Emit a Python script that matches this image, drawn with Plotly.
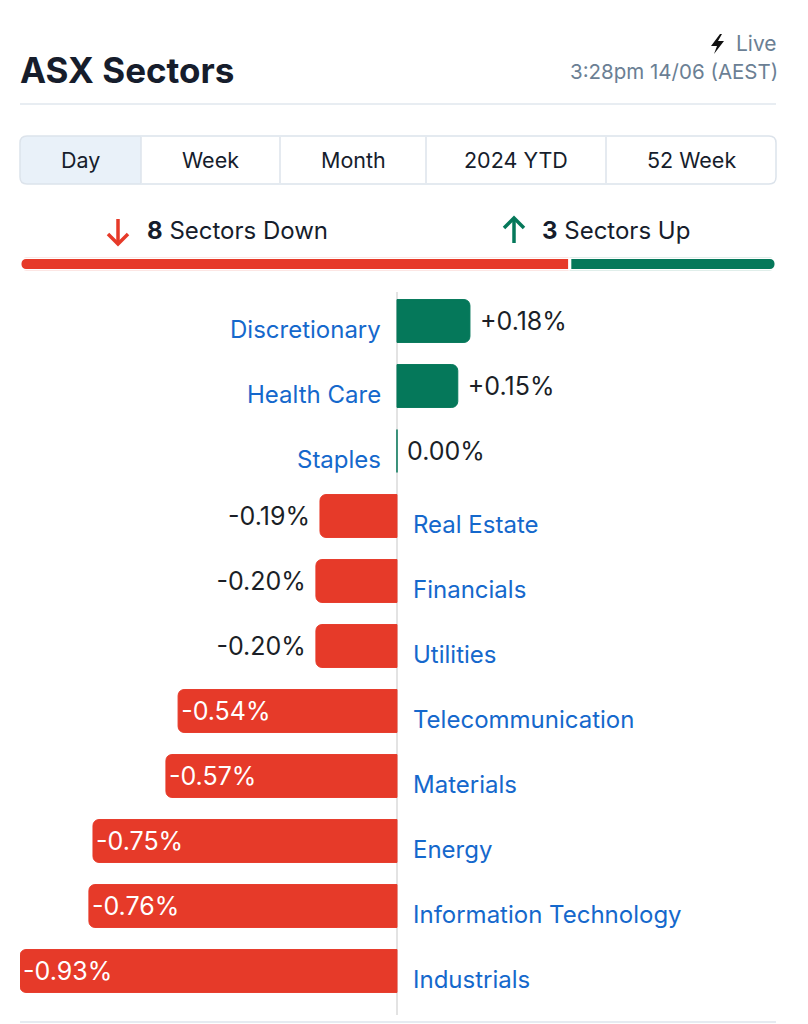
import plotly.graph_objects as go

# ---- data ----
sectors = ["Discretionary", "Health Care", "Staples", "Real Estate", "Financials",
           "Utilities", "Telecommunication", "Materials", "Energy",
           "Information Technology", "Industrials"]
changes = [0.18, 0.15, 0.00, -0.19, -0.20, -0.20, -0.54, -0.57, -0.75, -0.76, -0.93]
tabs = ["Day", "Week", "Month", "2024 YTD", "52 Week"]
title = "ASX Sectors"
live_text = "Live"
stamp_text = "3:28pm 14/06 (AEST)"

RED = "#e63a29"
GREEN = "#05785a"
BLUE = "#1568cc"
DARK = "#161d2c"
GREY = "#6b7f94"
LINE = "#e1e7ee"
# page body has an 8px margin, so the figure starts at (8, 8)
OFF = 8
W, H = 808 - OFF, 1024 - OFF


def px(x):
    return (x - OFF) / W


def py(y):
    return 1 - (y - OFF) / H


def rrect(x0, y0, x1, y1, r, left=True, right=True):
    # rounded rectangle path in pixel coords -> paper coords
    pts = []
    if left:
        pts.append(f"M{px(x0)},{py(y0 + r)}")
        pts.append(f"Q{px(x0)},{py(y0)} {px(x0 + r)},{py(y0)}")
    else:
        pts.append(f"M{px(x0)},{py(y0)}")
    if right:
        pts.append(f"L{px(x1 - r)},{py(y0)}")
        pts.append(f"Q{px(x1)},{py(y0)} {px(x1)},{py(y0 + r)}")
        pts.append(f"L{px(x1)},{py(y1 - r)}")
        pts.append(f"Q{px(x1)},{py(y1)} {px(x1 - r)},{py(y1)}")
    else:
        pts.append(f"L{px(x1)},{py(y0)}")
        pts.append(f"L{px(x1)},{py(y1)}")
    if left:
        pts.append(f"L{px(x0 + r)},{py(y1)}")
        pts.append(f"Q{px(x0)},{py(y1)} {px(x0)},{py(y1 - r)}")
    else:
        pts.append(f"L{px(x0)},{py(y1)}")
    pts.append("Z")
    return " ".join(pts)


def poly(points, close=True):
    p = "M" + " L".join(f"{px(x)},{py(y)}" for x, y in points)
    return p + " Z" if close else p


def arrow(cx, top, bottom, pointing_down, color):
    # stem + open chevron head
    if pointing_down:
        head = [(cx - 10, bottom - 10), (cx, bottom), (cx + 10, bottom - 10)]
        stem = [(cx, top), (cx, bottom - 1)]
    else:
        head = [(cx - 10, top + 10), (cx, top), (cx + 10, top + 10)]
        stem = [(cx, top + 1), (cx, bottom)]
    return [dict(type="path", xref="paper", yref="paper", path=poly(stem, False),
                 line=dict(color=color, width=3.5)),
            dict(type="path", xref="paper", yref="paper", path=poly(head, False),
                 line=dict(color=color, width=3.5))]


down = sum(1 for v in changes if v < 0)
up = sum(1 for v in changes if v >= 0)

colors = [GREEN if v >= 0 else RED for v in changes]
positions = []
labels = []
for v in changes:
    lab = "0.00%" if v == 0 else f"{v:+.2f}%"
    if v >= 0:
        positions.append("outside")
        labels.append(" " + lab)
    elif v > -0.3:
        positions.append("outside")
        labels.append(lab + " ")
    else:
        positions.append("inside")
        labels.append(lab)

fig = go.Figure()

fig.add_trace(go.Bar(
    x=changes, y=sectors, orientation="h",
    marker=dict(color=colors, cornerradius=6, line=dict(color=colors, width=1)),
    width=0.66,
    text=labels, textposition=positions, insidetextanchor="end",
    insidetextfont=dict(color="white", size=25, family="Inter"),
    outsidetextfont=dict(color="#1b1f27", size=25, family="Inter"),
    cliponaxis=False, hoverinfo="skip",
))

# progress bar of down / up counts
fig.add_trace(go.Bar(x=[-down], y=[0], orientation="h", width=1,
                     marker=dict(color=RED, cornerradius=6, line=dict(color="white", width=3)),
                     xaxis="x2", yaxis="y2", hoverinfo="skip"))
fig.add_trace(go.Bar(x=[up], y=[0], orientation="h", width=1,
                     marker=dict(color=GREEN, cornerradius=6, line=dict(color="white", width=3)),
                     xaxis="x2", yaxis="y2", hoverinfo="skip"))

ann = []
for s, v in zip(sectors, changes):
    if v >= 0:
        ann.append(dict(x=0, y=s, xref="x", yref="y", text=s, showarrow=False,
                        xanchor="right", xshift=-14, yshift=-8,
                        font=dict(color=BLUE, size=24, family="Inter")))
    else:
        ann.append(dict(x=0, y=s, xref="x", yref="y", text=s, showarrow=False,
                        xanchor="left", xshift=14, yshift=-8,
                        font=dict(color=BLUE, size=24, family="Inter")))

# header
ann.append(dict(x=px(18), y=py(70), xref="paper", yref="paper", text=f"<b>{title}</b>",
                showarrow=False, xanchor="left", yanchor="middle",
                font=dict(color=DARK, size=35, family="Inter")))
ann.append(dict(x=px(779), y=py(43), xref="paper", yref="paper", text=live_text,
                showarrow=False, xanchor="right", yanchor="middle",
                font=dict(color=GREY, size=21, family="Inter")))
ann.append(dict(x=px(780), y=py(71), xref="paper", yref="paper", text=stamp_text,
                showarrow=False, xanchor="right", yanchor="middle",
                font=dict(color=GREY, size=20.5, family="Inter")))

tab_edges = [20, 141, 280, 426, 606, 776]
for i, t in enumerate(tabs):
    cx = (tab_edges[i] + tab_edges[i + 1]) / 2
    ann.append(dict(x=px(cx), y=py(160), xref="paper", yref="paper", text=t,
                    showarrow=False, xanchor="center", yanchor="middle",
                    font=dict(color=DARK, size=21.5, family="Inter")))

ann.append(dict(x=px(145), y=py(230), xref="paper", yref="paper",
                text=f"<b>{down}</b> Sectors Down",
                showarrow=False, xanchor="left", yanchor="middle",
                font=dict(color=DARK, size=24, family="Inter")))
ann.append(dict(x=px(540), y=py(230), xref="paper", yref="paper",
                text=f"<b>{up}</b> Sectors Up",
                showarrow=False, xanchor="left", yanchor="middle",
                font=dict(color=DARK, size=24, family="Inter")))

shapes = [
    # lightning icon
    dict(type="path", xref="paper", yref="paper",
         path=poly([(720, 34), (711, 46), (717, 46), (714, 54), (724, 41), (718, 41), (722, 34)]),
         fillcolor="#111111", line=dict(width=0)),
    # header rule
    dict(type="line", xref="paper", yref="paper", x0=px(20), x1=px(776), y0=py(104), y1=py(104),
         line=dict(color=LINE, width=1.5)),
    # selected tab fill
    dict(type="path", xref="paper", yref="paper", path=rrect(20, 136, 141, 184, 7, right=False),
         fillcolor="#e9f1f9", line=dict(width=0)),
    # tab box
    dict(type="path", xref="paper", yref="paper", path=rrect(20, 136, 776, 184, 7),
         fillcolor="rgba(0,0,0,0)", line=dict(color="#dce3eb", width=1.5)),
    # zero line
    dict(type="line", xref="x", yref="paper", x0=0, x1=0, y0=py(1015), y1=py(292),
         line=dict(color="#dadada", width=1.5), layer="below"),
    # bottom rule
    dict(type="line", xref="paper", yref="paper", x0=px(20), x1=px(776), y0=py(1022), y1=py(1022),
         line=dict(color="#e6ebf1", width=2)),
]
shapes += arrow(118, 219, 244, True, RED)
shapes += arrow(514, 218, 243, False, GREEN)
for e in tab_edges[1:-1]:
    shapes.append(dict(type="line", xref="paper", yref="paper", x0=px(e), x1=px(e),
                       y0=py(137), y1=py(183), line=dict(color="#dce3eb", width=1.5)))

fig.update_layout(
    width=W, height=H,
    margin=dict(l=0, r=0, t=0, b=0),
    paper_bgcolor="white", plot_bgcolor="white",
    barmode="overlay", showlegend=False,
    font=dict(family="Inter", color=DARK),
    xaxis=dict(domain=[px(20), px(776)], range=[-0.93, 0.935], visible=False, fixedrange=True),
    yaxis=dict(domain=[py(1003.5), py(288.5)], range=[10.5, -0.5], type="category",
               categoryorder="array", categoryarray=sectors, visible=False, fixedrange=True),
    xaxis2=dict(domain=[px(20), px(776)], range=[-down, up], visible=False, anchor="y2"),
    yaxis2=dict(domain=[py(270.5), py(257.5)], range=[-0.5, 0.5], visible=False, anchor="x2"),
    annotations=ann, shapes=shapes,
)

fig.write_html("out.html", config={"displayModeBar": False})
